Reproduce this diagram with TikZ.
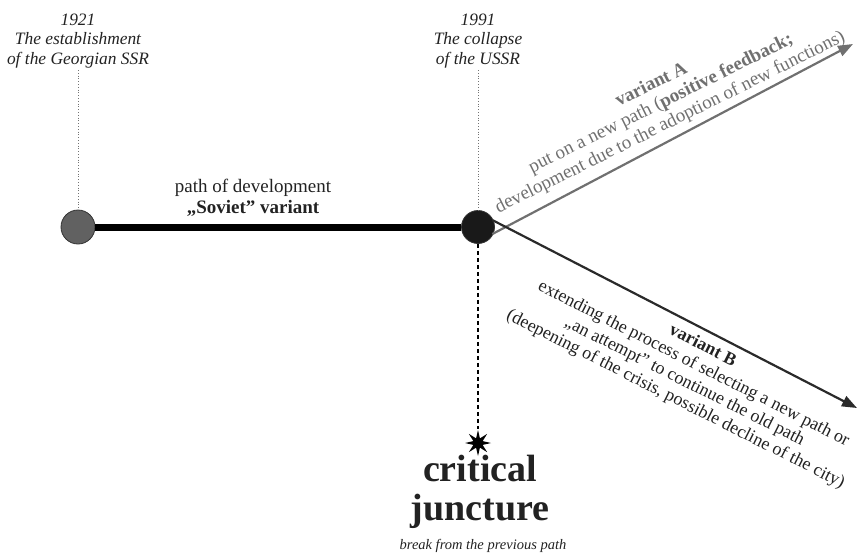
\documentclass[tikz,border=0pt]{standalone}
\usepackage{fontspec}
\setmainfont{Liberation Serif}
\usetikzlibrary{arrows.meta,shapes.geometric}
\definecolor{txt}{HTML}{222222}
\definecolor{graya}{HTML}{707070}
\definecolor{darkb}{HTML}{2a2a2a}
\begin{document}
\begin{tikzpicture}[x=1pt,y=-1pt,
  event/.style={align=center,font=\fontsize{17.4}{19.7}\selectfont\itshape,text=txt,inner sep=0pt},
  dot/.style={circle,inner sep=0pt,draw=black!80,line width=0.8pt},
  guide/.style={draw=black!55,line width=0.8pt,dotted},
  branch/.style={line width=2.2pt,-{Triangle[length=15pt,width=11pt]}},
  lbl/.style={align=center,inner sep=0pt,font=\fontsize{19}{21}\selectfont}]
\useasboundingbox (0,0) rectangle (858,558);
% events
\node[event] (e1) at (78,41) {1921\\The establishment\\of the Georgian SSR};
\node[event] (e2) at (478,41) {1991\\The collapse\\of the USSR};
% circles
\node[dot,fill=black!62,minimum size=34pt] (c1) at (78,227) {};
\node[dot,fill=black!90,minimum size=33pt] (c2) at (478,227) {};
\coordinate (g1) at (78,70);
\coordinate (g2) at (478,70);
\draw[guide] (g1) -- (c1.north);
\draw[guide] (g2) -- (c2.north);
% main path
\draw[line width=7pt,black] (c1.east) -- (c2.west);
\node[lbl,text=txt] (pd) at (253,198) {path of development\\\textbf{„Soviet” variant}};
% branches
\coordinate (ea) at (853,44);
\coordinate (eb) at (857,408);
\draw[branch,graya] (c2) ++(26:16) -- (ea);
\draw[branch,darkb] (c2) ++(-25.5:16) -- (eb);
\node[lbl,text=graya,rotate=26.4] (ta) at (661,104) {\textbf{variant A}\\put on a new path (\textbf{positive feedback;}\\development due to the adoption of new functions)};
\node[lbl,text=txt,rotate=-26.8,font=\fontsize{18}{20}\selectfont] (tb) at (689,373) {\textbf{variant B}\\extending the process of selecting a new path or\\„an attempt” to continue the old path\\(deepening of the crisis, possible decline of the city)};
% critical juncture
\node[star,star points=8,star point ratio=2.6,fill=black,inner sep=0pt,minimum size=26pt] (st) at (478,443) {};
\draw[line width=2.2pt,dash pattern=on 4pt off 3pt] (c2.south) -- (st.north);
\node[inner sep=0pt,align=center,font=\fontsize{38}{39}\selectfont\bfseries,text=txt] (cj) at (480,492) {critical\\juncture};
\node[event,font=\fontsize{14.5}{16}\selectfont\itshape] (br) at (483,546) {break from the previous path};
\end{tikzpicture}
\end{document}
